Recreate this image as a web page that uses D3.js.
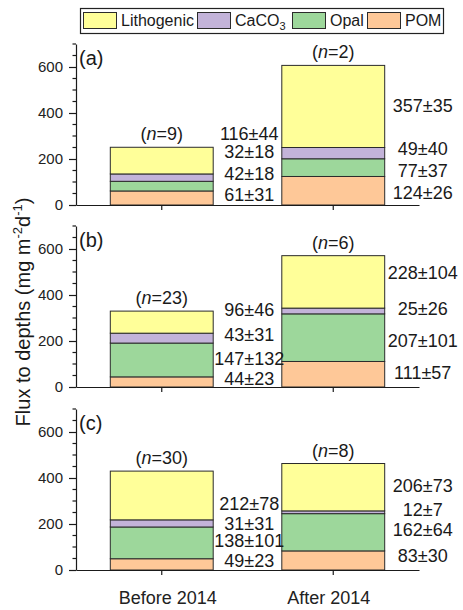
<!DOCTYPE html>
<html>
<head>
<meta charset="utf-8">
<script src="https://cdn.jsdelivr.net/npm/d3@7"></script>
<style>
  html, body { margin: 0; padding: 0; background: #fff; }
  svg { display: block; font-family: "Liberation Sans", Arial, sans-serif; }
</style>
</head>
<body>
<svg id="chart" width="463" height="610"></svg>
<script>
// Periods and flux components (stacking order bottom -> top)
const periods = ["Before 2014", "After 2014"];
const components = ["POM", "Opal", "CaCO3", "Lithogenic"];
const panelLetters = ["(a)", "(b)", "(c)"];
const sampleCounts = [[9, 2], [23, 6], [30, 8]];

// Mean fluxes (mg m-2 d-1) per panel: [before, after]
const pomMean = [[61, 124], [44, 111], [49, 83]];
const opalMean = [[42, 77], [147, 207], [138, 162]];
const caco3Mean = [[32, 49], [43, 25], [31, 12]];
const lithoMean = [[116, 357], [96, 228], [212, 206]];

// Standard deviations
const pomSd = [[31, 26], [23, 57], [23, 30]];
const opalSd = [[18, 37], [132, 101], [101, 64]];
const caco3Sd = [[18, 40], [31, 26], [31, 7]];
const lithoSd = [[44, 35], [46, 104], [78, 73]];

// Axis ticks
const yTicks = [0, 200, 400, 600];
const yMax = 700;
const minorStep = 50;

// Label levels (in flux units) for the value annotations, per panel, per period,
// listed bottom -> top (POM, Opal, CaCO3, Lithogenic)
const labelLevels = [
  [[17, 109, 204, 283], [26, 122, 217, 406]],
  [[9, 94, 202, 309], [35, 176, 313, 470]],
  [[15, 100, 172, 261], [33, 146, 233, 339]]
];

const colors = {
  Lithogenic: "#ffff99",
  CaCO3: "#c3b3d9",
  Opal: "#9dd79b",
  POM: "#fec898"
};

const means = [pomMean, opalMean, caco3Mean, lithoMean];
const sds = [pomSd, opalSd, caco3Sd, lithoSd];

const svg = d3.select("#chart");
const ink = "#1a1a1a";

// Layout
const plotLeft = 76, plotRight = 419;
const panelBottoms = [205, 387, 570];
const panelHeight = 161;

const x = d3.scaleBand()
  .domain(periods)
  .range([plotLeft, plotRight])
  .paddingInner(0.4)
  .paddingOuter(0.2);

const valueLabelDx = [36, 38];
const periodLabelDx = [6, -4.5];

panelLetters.forEach((letter, p) => {
  const bottom = panelBottoms[p];
  const y = d3.scaleLinear().domain([0, yMax]).range([bottom, bottom - panelHeight]);
  const g = svg.append("g");

  // Stack the components for both periods
  const rows = periods.map((period, i) => {
    const row = { period };
    components.forEach((c, k) => { row[c] = means[k][p][i]; });
    return row;
  });
  const stacked = d3.stack().keys(components)(rows);

  stacked.forEach(layer => {
    g.selectAll(null)
      .data(layer)
      .join("rect")
      .attr("x", d => x(d.data.period))
      .attr("width", x.bandwidth())
      .attr("y", d => y(d[1]))
      .attr("height", d => y(d[0]) - y(d[1]))
      .attr("fill", colors[layer.key])
      .attr("stroke", "#2b2b2b")
      .attr("stroke-width", 1);
  });

  // Sample counts above each bar
  periods.forEach((period, i) => {
    const total = d3.sum(components, (c, k) => means[k][p][i]);
    const t = g.append("text")
      .attr("x", x(period) + x.bandwidth() / 2)
      .attr("y", y(total) - 7)
      .attr("text-anchor", "middle")
      .attr("font-size", 18)
      .attr("fill", ink);
    t.append("tspan").text("(");
    t.append("tspan").attr("font-style", "italic").text("n");
    t.append("tspan").text("=" + sampleCounts[p][i] + ")");
  });

  // Mean ± SD annotations to the right of each bar
  periods.forEach((period, i) => {
    components.forEach((c, k) => {
      g.append("text")
        .attr("x", x(period) + x.bandwidth() + valueLabelDx[i])
        .attr("y", y(labelLevels[p][i][k]))
        .attr("text-anchor", "middle")
        .attr("font-size", 18)
        .attr("fill", ink)
        .text(means[k][p][i] + "\u00b1" + sds[k][p][i]);
    });
  });

  // Y axis with major ticks
  const yAxis = g.append("g")
    .attr("transform", `translate(${plotLeft},0)`)
    .call(d3.axisLeft(y).tickValues(yTicks).tickSize(7).tickPadding(6).tickSizeOuter(0));
  yAxis.select(".domain").attr("stroke", ink).attr("stroke-width", 1.2);
  yAxis.selectAll(".tick line").attr("stroke", ink).attr("stroke-width", 1.2);
  yAxis.selectAll(".tick text")
    .attr("font-size", 15)
    .attr("font-family", "Liberation Sans, Arial, sans-serif")
    .attr("fill", "#222");

  // Minor ticks
  const minor = d3.range(0, yMax + 1, minorStep).filter(v => !yTicks.includes(v));
  g.append("g")
    .attr("transform", `translate(${plotLeft},0)`)
    .selectAll("line")
    .data(minor)
    .join("line")
    .attr("x1", -3.5).attr("x2", 0)
    .attr("y1", d => y(d)).attr("y2", d => y(d))
    .attr("stroke", ink).attr("stroke-width", 1.2);

  // X axis
  const xAxis = g.append("g")
    .attr("transform", `translate(0,${bottom})`)
    .call(d3.axisBottom(x).tickSize(5).tickSizeOuter(0).tickPadding(16));
  xAxis.select(".domain").attr("stroke", ink).attr("stroke-width", 1.2);
  xAxis.selectAll(".tick line").attr("stroke", ink).attr("stroke-width", 1.2);
  if (p === panelLetters.length - 1) {
    xAxis.selectAll(".tick text")
      .attr("font-size", 18)
      .attr("font-family", "Liberation Sans, Arial, sans-serif")
      .attr("fill", "#222")
      .attr("dx", (d, i) => periodLabelDx[i]);
  } else {
    xAxis.selectAll(".tick text").remove();
  }

  // Panel letter
  g.append("text")
    .attr("x", plotLeft + 3)
    .attr("y", y(yMax) + 21)
    .attr("font-size", 20)
    .attr("fill", ink)
    .text(letter);
});

// Y-axis title
const title = svg.append("text")
  .attr("transform", "translate(30,312) rotate(-90)")
  .attr("text-anchor", "middle")
  .attr("font-size", 20)
  .attr("fill", ink);
title.append("tspan").text("Flux to depths (mg m");
title.append("tspan").attr("font-size", 13).attr("dy", -8).text("-2");
title.append("tspan").attr("dy", 8).text("d");
title.append("tspan").attr("font-size", 13).attr("dy", -8).text("-1");
title.append("tspan").attr("dy", 8).text(")");

// Legend
const legendOrder = ["Lithogenic", "CaCO3", "Opal", "POM"];
const legendX = [83, 197, 292, 367];
const legend = svg.append("g");
legend.append("rect")
  .attr("x", 80.5).attr("y", 8.5)
  .attr("width", 363).attr("height", 25)
  .attr("fill", "#fff")
  .attr("stroke", "#222").attr("stroke-width", 1.2);

legendOrder.forEach((name, i) => {
  legend.append("rect")
    .attr("x", legendX[i] + 0.5).attr("y", 12.5)
    .attr("width", 33).attr("height", 16)
    .attr("fill", colors[name])
    .attr("stroke", "#2b2b2b").attr("stroke-width", 1);
  const t = legend.append("text")
    .attr("x", legendX[i] + 38)
    .attr("y", 25.5)
    .attr("font-size", 16)
    .attr("fill", ink);
  if (name === "CaCO3") {
    t.append("tspan").text("CaCO");
    t.append("tspan").attr("font-size", 11).attr("dy", 4).text("3");
  } else {
    t.text(name);
  }
});
</script>
</body>
</html>
